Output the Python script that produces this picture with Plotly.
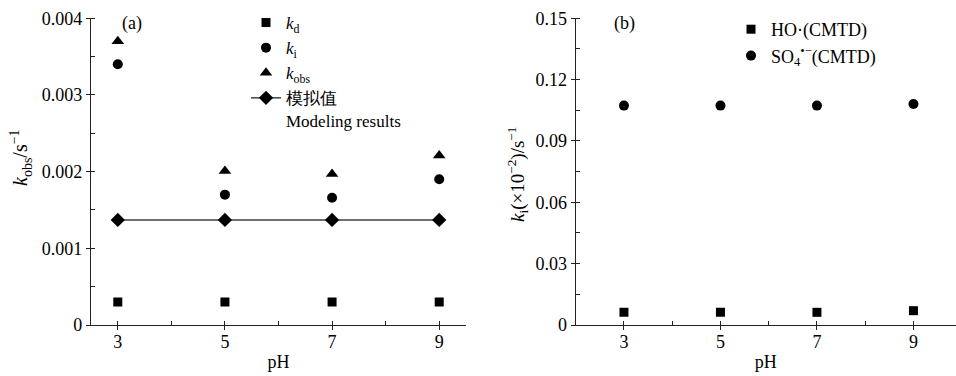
import plotly.graph_objects as go

pH = [3, 5, 7, 9]
k_d = [0.0003, 0.0003, 0.0003, 0.0003]
k_i = [0.0034, 0.0017, 0.00166, 0.0019]
k_obs = [0.0037, 0.00201, 0.00197, 0.00221]
k_model = [0.00137, 0.00137, 0.00137, 0.00137]

k_HO = [0.0062, 0.0062, 0.0062, 0.0070]
k_SO4 = [0.1073, 0.1073, 0.1073, 0.1081]

left_yticks = [0, 0.001, 0.002, 0.003, 0.004]
right_yticks = [0, 0.03, 0.06, 0.09, 0.12, 0.15]

FONT = "Liberation Serif"
W, H = 956, 376
FS = 18

fig = go.Figure()

fig.add_trace(go.Scatter(x=pH, y=k_d, mode="markers", name="<i>k</i><sub>d</sub>",
                         marker=dict(symbol="square", size=9, color="black"),
                         xaxis="x", yaxis="y", legend="legend"))
fig.add_trace(go.Scatter(x=pH, y=k_i, mode="markers", name="<i>k</i><sub>i</sub>",
                         marker=dict(symbol="circle", size=10, color="black"),
                         xaxis="x", yaxis="y", legend="legend"))
fig.add_trace(go.Scatter(x=pH, y=k_obs, mode="markers", name="<i>k</i><sub>obs</sub>",
                         marker=dict(symbol="triangle-up", size=11, color="black"),
                         xaxis="x", yaxis="y", legend="legend"))
fig.add_trace(go.Scatter(x=pH, y=k_model, mode="lines+markers",
                         name="模拟值<br>Modeling results",
                         line=dict(color="#404040", width=1.5),
                         marker=dict(symbol="diamond", size=11, color="black"),
                         xaxis="x", yaxis="y", legend="legend"))

fig.add_trace(go.Scatter(x=pH, y=k_HO, mode="markers", name="HO·(CMTD)",
                         marker=dict(symbol="square", size=9, color="black"),
                         xaxis="x2", yaxis="y2", legend="legend2"))
fig.add_trace(go.Scatter(x=pH, y=k_SO4, mode="markers",
                         name="SO<sub>4</sub><sup>•−</sup>(CMTD)",
                         marker=dict(symbol="circle", size=10, color="black"),
                         xaxis="x2", yaxis="y2", legend="legend2"))

ydom = [(H - 325) / H, (H - 18.3) / H]
axis_common = dict(showline=True, linecolor="#222", linewidth=1.3, showgrid=False,
                   zeroline=False, ticks="outside", ticklen=4, tickwidth=1.2,
                   automargin=False,
                   tickcolor="#222", tickfont=dict(family=FONT, size=FS, color="black"),
                   title_font=dict(family=FONT, size=FS, color="black"))
xminor = dict(dtick=1, tick0=3, ticks="inside", ticklen=4, tickcolor="#222")

fig.update_layout(
    width=W, height=H, margin=dict(l=0, r=0, t=0, b=0, autoexpand=False),
    plot_bgcolor="white", paper_bgcolor="white",
    font=dict(family=FONT, size=FS, color="black"),
    xaxis=dict(domain=[91 / W, 466 / W], range=[2.5, 9.5], tickvals=pH,
               minor=xminor, ticklabelstandoff=-4,
               title=dict(text="pH", standoff=4), anchor="y", **axis_common),
    yaxis=dict(domain=ydom, range=[0, 0.004], tickvals=left_yticks,
               ticktext=["0", "0.001", "0.002", "0.003", "0.004"],
               minor=dict(dtick=0.0005, tick0=0, ticks="inside", ticklen=4, tickcolor="#222"),
               anchor="x", **axis_common),
    xaxis2=dict(domain=[575.7 / W, 1.0], range=[2.0, 2.0 + (956 - 575.7) / 48.25],
                tickvals=pH, minor=xminor, ticklabelstandoff=-4,
                title=dict(text="pH", standoff=4), anchor="y2", **axis_common),
    yaxis2=dict(domain=ydom, range=[0, 0.15], tickvals=right_yticks,
                ticktext=["0", "0.03", "0.06", "0.09", "0.12", "0.15"],
                minor=dict(dtick=0.015, tick0=0, ticks="inside", ticklen=4, tickcolor="#222"),
                anchor="x2", **axis_common),
    legend=dict(x=246 / W, y=1 - 5 / H, xanchor="left", yanchor="top",
                bgcolor="rgba(0,0,0,0)", valign="top",
                font=dict(family=FONT, size=17, color="black")),
    legend2=dict(x=731 / W, y=1 - 11 / H, xanchor="left", yanchor="top",
                 bgcolor="rgba(0,0,0,0)", valign="middle",
                 font=dict(family=FONT, size=18, color="black")),
    showlegend=True,
    annotations=[
        dict(text="(a)", xref="paper", yref="paper", x=132 / W, y=1 - 23 / H,
             xanchor="center", yanchor="middle",
             showarrow=False, font=dict(family=FONT, size=FS, color="black")),
        dict(text="(b)", xref="paper", yref="paper", x=624 / W, y=1 - 24 / H,
             xanchor="center", yanchor="middle",
             showarrow=False, font=dict(family=FONT, size=FS, color="black")),
        dict(text="<i>k</i><sub>obs</sub>/s<sup>−1</sup>", xref="paper", yref="paper",
             x=21 / W, y=1 - 158 / H, xanchor="center", yanchor="middle", textangle=-90,
             showarrow=False, font=dict(family=FONT, size=20, color="black")),
        dict(text="<i>k</i><sub>i</sub>(×10<sup>−2</sup>)/s<sup>−1</sup>", xref="paper", yref="paper",
             x=517 / W, y=1 - 174 / H, xanchor="center", yanchor="middle", textangle=-90,
             showarrow=False, font=dict(family=FONT, size=19, color="black")),
    ],
)

fig.write_html("out.html")
